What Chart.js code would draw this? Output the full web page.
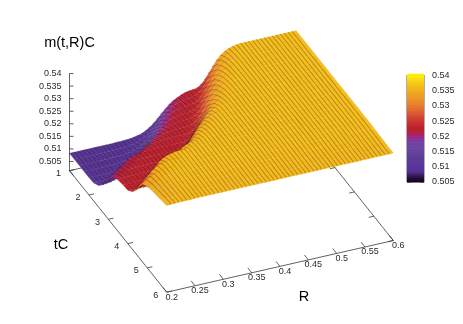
<!DOCTYPE html>
<html>
<head>
<meta charset="utf-8">
<style>
  html, body { margin: 0; padding: 0; background: #fff; }
  canvas { display: block; }
</style>
<script src="https://cdn.jsdelivr.net/npm/chart.js@4/dist/chart.umd.min.js"></script>
</head>
<body>
<canvas id="chart" width="463" height="324"></canvas>
<script>
// grid lines of the surface
const tValues = [1, 1.25, 1.5, 1.75, 2, 2.25, 2.5, 2.75, 3, 3.25, 3.5, 3.75, 4, 4.25, 4.5, 4.75, 5, 5.25, 5.5, 5.75, 6];
const rValues = [
  0.2, 0.207, 0.214, 0.221, 0.228, 0.235, 0.242, 0.249, 0.256, 0.263,
  0.27, 0.277, 0.284, 0.291, 0.298, 0.305, 0.312, 0.319, 0.326, 0.333,
  0.34, 0.347, 0.354, 0.361, 0.368, 0.375, 0.382, 0.389, 0.396, 0.403,
  0.41, 0.417, 0.424, 0.431, 0.438, 0.445, 0.452, 0.459, 0.466, 0.473,
  0.48, 0.487, 0.494, 0.501, 0.508, 0.515, 0.522, 0.529, 0.536, 0.543,
  0.55, 0.557, 0.564, 0.571, 0.578, 0.585, 0.592, 0.6
];

// m(t,R)C x 10000, one row per t, one column per R
const zRows = [
  [5083,5083,5083,5083,5083,5083,5083,5083,5083,5083, 5083,5083,5084,5084,5085,5086,5088,5091,5095,5102, 5111,5123,5138,5154,5170,5185,5197,5205,5213,5219, 5222,5224,5226,5235,5251,5273,5295,5318,5335,5347, 5355,5360,5363,5365,5365,5365,5365,5365,5365,5365, 5365,5365,5365,5365,5365,5365,5365,5365],
  [5083,5083,5083,5083,5083,5083,5083,5083,5083,5083, 5084,5084,5085,5086,5088,5091,5095,5102,5111,5123, 5138,5154,5170,5185,5197,5206,5213,5217,5220,5222, 5225,5232,5244,5263,5285,5306,5327,5342,5351,5358, 5361,5364,5365,5365,5365,5365,5365,5365,5365,5365, 5365,5365,5365,5365,5365,5365,5365,5365],
  [5083,5083,5083,5083,5083,5083,5083,5083,5084,5084, 5085,5086,5088,5091,5095,5102,5111,5123,5138,5154, 5170,5185,5197,5206,5213,5217,5220,5222,5224,5227, 5236,5253,5275,5295,5318,5335,5347,5355,5360,5363, 5364,5365,5365,5365,5365,5365,5365,5365,5365,5365, 5365,5365,5365,5365,5365,5365,5365,5365],
  [5083,5083,5083,5083,5083,5083,5084,5084,5085,5086, 5088,5091,5095,5102,5111,5123,5138,5154,5170,5185, 5197,5206,5213,5217,5220,5222,5223,5227,5232,5244, 5263,5285,5306,5327,5342,5351,5358,5361,5364,5365, 5365,5365,5365,5365,5365,5365,5365,5365,5365,5365, 5365,5365,5365,5365,5365,5365,5365,5365],
  [5083,5083,5083,5083,5084,5084,5085,5087,5090,5093, 5098,5106,5117,5130,5146,5162,5178,5191,5202,5210, 5215,5218,5221,5223,5224,5225,5229,5237,5253,5275, 5295,5318,5335,5347,5355,5360,5363,5364,5365,5365, 5365,5365,5365,5365,5365,5365,5365,5365,5365,5365, 5365,5365,5365,5365,5365,5365,5365,5365],
  [5085,5086,5087,5087,5088,5090,5093,5098,5106,5117, 5130,5146,5162,5178,5191,5202,5210,5215,5218,5221, 5223,5224,5225,5225,5227,5232,5244,5263,5285,5306, 5327,5342,5351,5358,5361,5364,5365,5365,5365,5365, 5365,5365,5365,5365,5365,5365,5365,5365,5365,5365, 5365,5365,5365,5365,5365,5365,5365,5365],
  [5100,5101,5102,5104,5108,5117,5130,5146,5162,5178, 5191,5202,5210,5215,5218,5221,5223,5224,5225,5225, 5225,5225,5225,5229,5237,5253,5275,5295,5318,5335, 5347,5355,5360,5363,5364,5365,5365,5365,5365,5365, 5365,5365,5365,5365,5365,5365,5365,5365,5365,5365, 5365,5365,5365,5365,5365,5365,5365,5365],
  [5128,5135,5147,5162,5178,5191,5202,5210,5215,5218, 5221,5223,5224,5225,5225,5225,5225,5225,5225,5225, 5225,5229,5237,5253,5275,5295,5318,5335,5347,5355, 5360,5363,5364,5365,5365,5365,5365,5365,5365,5365, 5365,5365,5365,5365,5365,5365,5365,5365,5365,5365, 5365,5365,5365,5365,5365,5365,5365,5365],
  [5170,5185,5197,5206,5213,5217,5220,5222,5223,5224, 5225,5225,5225,5225,5225,5225,5225,5225,5227,5232, 5244,5263,5285,5306,5327,5342,5351,5358,5361,5364, 5365,5365,5365,5365,5365,5365,5365,5365,5365,5365, 5365,5365,5365,5365,5365,5365,5365,5365,5365,5365, 5365,5365,5365,5365,5365,5365,5365,5365],
  [5206,5213,5217,5220,5222,5223,5224,5225,5225,5225, 5225,5225,5225,5225,5225,5225,5229,5237,5253,5275, 5295,5318,5335,5347,5355,5360,5363,5364,5365,5365, 5365,5365,5365,5365,5365,5365,5365,5365,5365,5365, 5365,5365,5365,5365,5365,5365,5365,5365,5365,5365, 5365,5365,5365,5365,5365,5365,5365,5365],
  [5218,5221,5223,5224,5225,5225,5225,5225,5225,5225, 5225,5225,5225,5227,5232,5244,5263,5285,5306,5327, 5342,5351,5358,5361,5364,5365,5365,5365,5365,5365, 5365,5365,5365,5365,5365,5365,5365,5365,5365,5365, 5365,5365,5365,5365,5365,5365,5365,5365,5365,5365, 5365,5365,5365,5365,5365,5365,5365,5365],
  [5223,5224,5225,5225,5225,5225,5225,5225,5225,5225, 5225,5229,5237,5253,5275,5295,5318,5335,5347,5355, 5360,5363,5364,5365,5365,5365,5365,5365,5365,5365, 5365,5365,5365,5365,5365,5365,5365,5365,5365,5365, 5365,5365,5365,5365,5365,5365,5365,5365,5365,5365, 5365,5365,5365,5365,5365,5365,5365,5365],
  [5226,5225,5225,5225,5225,5225,5225,5229,5237,5253, 5275,5295,5318,5335,5347,5355,5360,5363,5364,5365, 5365,5365,5365,5365,5365,5365,5365,5365,5365,5365, 5365,5365,5365,5365,5365,5365,5365,5365,5365,5365, 5365,5365,5365,5365,5365,5365,5365,5365,5365,5365, 5365,5365,5365,5365,5365,5365,5365,5365],
  [5244,5250,5258,5270,5285,5306,5327,5342,5351,5358, 5361,5364,5365,5365,5365,5365,5365,5365,5365,5365, 5365,5365,5365,5365,5365,5365,5365,5365,5365,5365, 5365,5365,5365,5365,5365,5365,5365,5365,5365,5365, 5365,5365,5365,5365,5365,5365,5365,5365,5365,5365, 5365,5365,5365,5365,5365,5365,5365,5365],
  [5285,5297,5312,5327,5342,5351,5358,5361,5364,5365, 5365,5365,5365,5365,5365,5365,5365,5365,5365,5365, 5365,5365,5365,5365,5365,5365,5365,5365,5365,5365, 5365,5365,5365,5365,5365,5365,5365,5365,5365,5365, 5365,5365,5365,5365,5365,5365,5365,5365,5365,5365, 5365,5365,5365,5365,5365,5365,5365,5365],
  [5322,5335,5345,5351,5356,5360,5362,5364,5365,5365, 5365,5365,5365,5365,5365,5365,5365,5365,5365,5365, 5365,5365,5365,5365,5365,5365,5365,5365,5365,5365, 5365,5365,5365,5365,5365,5365,5365,5365,5365,5365, 5365,5365,5365,5365,5365,5365,5365,5365,5365,5365, 5365,5365,5365,5365,5365,5365,5365,5365],
  [5338,5345,5350,5354,5357,5360,5362,5363,5364,5364, 5364,5364,5364,5364,5364,5364,5364,5364,5364,5364, 5364,5364,5364,5364,5364,5364,5364,5364,5364,5364, 5364,5364,5364,5364,5364,5364,5364,5364,5364,5364, 5364,5364,5364,5364,5364,5364,5364,5364,5364,5364, 5364,5364,5364,5364,5364,5364,5364,5364],
  [5345,5349,5352,5355,5357,5359,5361,5362,5363,5363, 5363,5363,5363,5363,5363,5363,5363,5363,5363,5363, 5363,5363,5363,5363,5363,5363,5363,5363,5363,5363, 5363,5363,5363,5363,5363,5363,5363,5363,5363,5363, 5363,5363,5363,5363,5363,5363,5363,5363,5363,5363, 5363,5363,5363,5363,5363,5363,5363,5363],
  [5349,5352,5354,5356,5358,5359,5360,5361,5362,5362, 5362,5362,5362,5362,5362,5362,5362,5362,5362,5362, 5362,5362,5362,5362,5362,5362,5362,5362,5362,5362, 5362,5362,5362,5362,5362,5362,5362,5362,5362,5362, 5362,5362,5362,5362,5362,5362,5362,5362,5362,5362, 5362,5362,5362,5362,5362,5362,5362,5362],
  [5354,5356,5357,5358,5359,5360,5360,5361,5361,5361, 5361,5361,5361,5361,5361,5361,5361,5361,5361,5361, 5361,5361,5361,5361,5361,5361,5361,5361,5361,5361, 5361,5361,5361,5361,5361,5361,5361,5361,5361,5361, 5361,5361,5361,5361,5361,5361,5361,5361,5361,5361, 5361,5361,5361,5361,5361,5361,5361,5361],
  [5358,5359,5359,5360,5360,5360,5360,5361,5361,5361, 5361,5361,5361,5361,5361,5361,5361,5361,5361,5361, 5361,5361,5361,5361,5361,5361,5361,5361,5361,5361, 5361,5361,5361,5361,5361,5361,5361,5361,5361,5361, 5361,5361,5361,5361,5361,5361,5361,5361,5361,5361, 5361,5361,5361,5361,5361,5361,5361,5361]
];

const zTicks = ["0.505", "0.51", "0.515", "0.52", "0.525", "0.53", "0.535", "0.54"];
const tTicks = ["1", "2", "3", "4", "5", "6"];
const rTicks = ["0.2", "0.25", "0.3", "0.35", "0.4", "0.45", "0.5", "0.55", "0.6"];

// colour box palette: value, r, g, b
const palette = [
  [0.505, 15, 5, 25], [0.5065, 40, 20, 70], [0.5083, 85, 50, 150], [0.5125, 92, 60, 155],
  [0.516, 105, 72, 160], [0.5185, 125, 60, 160], [0.5197, 155, 40, 140], [0.5208, 180, 35, 70],
  [0.5225, 188, 33, 45], [0.525, 205, 55, 50], [0.5275, 220, 90, 50], [0.53, 230, 125, 45],
  [0.5325, 236, 152, 38], [0.536, 244, 184, 26], [0.538, 250, 210, 20], [0.54, 255, 240, 10]
];

// view of the box on screen
const origin = { x: 69.5, y: 170.7 };     // t=1, R=0.2, bottom of the box
const perR = { x: 566.5, y: -129.25 };
const perT = { x: 19.44, y: 24.3 };
const zBase = 0.50134;
const perZ = 2514;

const boxTop = 75.5, boxBottom = 182, boxLeft = 407, boxRight = 424;

function project(t, r, z) {
  return {
    x: origin.x + perR.x * (r - 0.2) + perT.x * (t - 1),
    y: origin.y + perR.y * (r - 0.2) + perT.y * (t - 1) - (z - zBase) * perZ
  };
}

function colorFor(v) {
  let i = 0;
  while (i < palette.length - 2 && v > palette[i + 1][0]) i++;
  const a = palette[i], b = palette[i + 1];
  const f = Math.max(0, Math.min(1, (v - a[0]) / (b[0] - a[0])));
  const c = [1, 2, 3].map(k => Math.round(a[k] + (b[k] - a[k]) * f));
  return `rgb(${c[0]},${c[1]},${c[2]})`;
}

const zAt = (ti, ri) => zRows[ti][ri] / 10000;

const datasets = [];

// surface: first R is nearest the viewer, Chart.js paints high indexes first
rValues.forEach((r, ri) => {
  const edge = ri === 0 || ri === rValues.length - 1;
  datasets.push({
    surface: ri,
    data: tValues.map((t, ti) => project(t, r, zAt(ti, ri))),
    showLine: true,
    pointRadius: 0,
    borderColor: "rgba(40,10,0,0.3)",
    borderWidth: edge ? 0.4 : 2.2
  });
});

function axisLine(points, color, width) {
  datasets.push({ data: points, showLine: true, pointRadius: 0, borderColor: color || "#3a3a3a", borderWidth: width || 0.8 });
}

// colour box, one band per level
const boxPxPerValue = (boxBottom - boxTop) / 0.035;
const cbMax = 0.54 + boxTop / boxPxPerValue;
const cbMin = 0.505 - (324 - boxBottom) / boxPxPerValue;
for (let v = 0.505; v < 0.54; v += 0.0005) {
  datasets.push({
    data: [{ x: boxLeft, y: v + 0.00025 }, { x: boxRight, y: v + 0.00025 }],
    yAxisID: "cb", showLine: true, pointRadius: 0, borderWidth: 2.2,
    borderColor: colorFor(v + 0.00025)
  });
}
zTicks.forEach(s => {
  const v = parseFloat(s);
  [[boxLeft, boxLeft + 4], [boxRight - 4, boxRight]].forEach(xs => {
    datasets.push({
      data: xs.map(x => ({ x: x, y: v })),
      yAxisID: "cb", showLine: true, pointRadius: 0, borderWidth: 0.8, borderColor: "#222"
    });
  });
});
datasets.push({
  data: [{ x: boxLeft, y: 0.505 }, { x: boxLeft, y: 0.54 }, { x: boxRight, y: 0.54 }, { x: boxRight, y: 0.505 }, { x: boxLeft, y: 0.505 }],
  yAxisID: "cb", showLine: true, pointRadius: 0, borderWidth: 1.2, borderColor: "#777"
});

// box edges and ticks
axisLine([project(1, 0.2, zBase), project(1, 0.2, 0.54)]);
axisLine([project(1, 0.2, zBase), project(6, 0.2, zBase), project(6, 0.6, zBase), project(1, 0.6, zBase), project(1, 0.2, zBase)]);
zTicks.forEach(s => {
  const p = project(1, 0.2, parseFloat(s));
  axisLine([p, { x: p.x + 4, y: p.y }]);
});
tTicks.forEach(s => {
  const t = parseFloat(s);
  axisLine([project(t, 0.2, zBase), project(t, 0.209, zBase)]);
  axisLine([project(t, 0.6, zBase), project(t, 0.591, zBase)]);
});
rTicks.forEach(s => {
  const r = parseFloat(s);
  axisLine([project(6, r, zBase), project(5.8, r, zBase)]);
  axisLine([project(1, r, zBase), project(1.2, r, zBase)]);
});

// fills the strip between a surface line and the next one, just before the line itself is drawn
const surfacePlugin = {
  id: "surface",
  beforeDatasetDraw(chart, args) {
    const ds = chart.data.datasets[args.index];
    if (ds.surface === undefined || ds.surface === rValues.length - 1) return;
    const ri = ds.surface;
    const a = chart.getDatasetMeta(args.index).data;
    const b = chart.getDatasetMeta(args.index + 1).data;
    const ctx = chart.ctx;
    ctx.save();
    ctx.lineWidth = 0.2;
    for (let ti = 0; ti < tValues.length - 1; ti++) {
      const v = (zAt(ti, ri) + zAt(ti + 1, ri) + zAt(ti, ri + 1) + zAt(ti + 1, ri + 1)) / 4;
      ctx.fillStyle = ctx.strokeStyle = colorFor(v);
      ctx.beginPath();
      ctx.moveTo(a[ti].x, a[ti].y);
      ctx.lineTo(a[ti + 1].x, a[ti + 1].y);
      ctx.lineTo(b[ti + 1].x, b[ti + 1].y);
      ctx.lineTo(b[ti].x, b[ti].y);
      ctx.closePath();
      ctx.fill();
      ctx.stroke();
    }
    ctx.restore();
  }
};

// labels sit on the scales too
const labelPlugin = {
  id: "labels",
  afterDraw(chart) {
    const ctx = chart.ctx;
    const sx = chart.scales.x, sy = chart.scales.y, cb = chart.scales.cb;
    const put = (text, x, y, align) => {
      ctx.textAlign = align || "center";
      ctx.fillText(text, sx.getPixelForValue(x), sy.getPixelForValue(y));
    };
    ctx.save();
    ctx.textBaseline = "middle";
    ctx.fillStyle = "#2a2a2a";
    ctx.font = "9px 'Liberation Sans'";
    zTicks.forEach(s => {
      const p = project(1, 0.2, parseFloat(s));
      put(s, 61.5, p.y, "right");
      ctx.textAlign = "left";
      ctx.fillText(s, 432, cb.getPixelForValue(parseFloat(s)));
    });
    tTicks.forEach(s => {
      const p = project(parseFloat(s), 0.2, zBase);
      put(s, p.x - 11, p.y + 3);
    });
    rTicks.forEach(s => {
      const p = project(6, parseFloat(s), zBase);
      put(s, p.x + 5, p.y + 5);
    });
    ctx.fillStyle = "#000";
    ctx.font = "14.5px 'Liberation Sans'";
    put("m(t,R)C", 69.5, 42.7);
    put("tC", 61, 244.7);
    put("R", 304, 297);
    ctx.restore();
  }
};

new Chart(document.getElementById("chart"), {
  type: "scatter",
  data: { datasets: datasets },
  plugins: [surfacePlugin, labelPlugin],
  options: {
    responsive: false,
    animation: false,
    layout: { padding: 0 },
    plugins: { legend: { display: false }, tooltip: { enabled: false }, title: { display: false } },
    scales: {
      x: { type: "linear", min: 0, max: 463, display: false },
      y: { type: "linear", min: 0, max: 324, reverse: true, display: false },
      cb: { type: "linear", min: cbMin, max: cbMax, display: false }
    }
  }
});
</script>
</body>
</html>
